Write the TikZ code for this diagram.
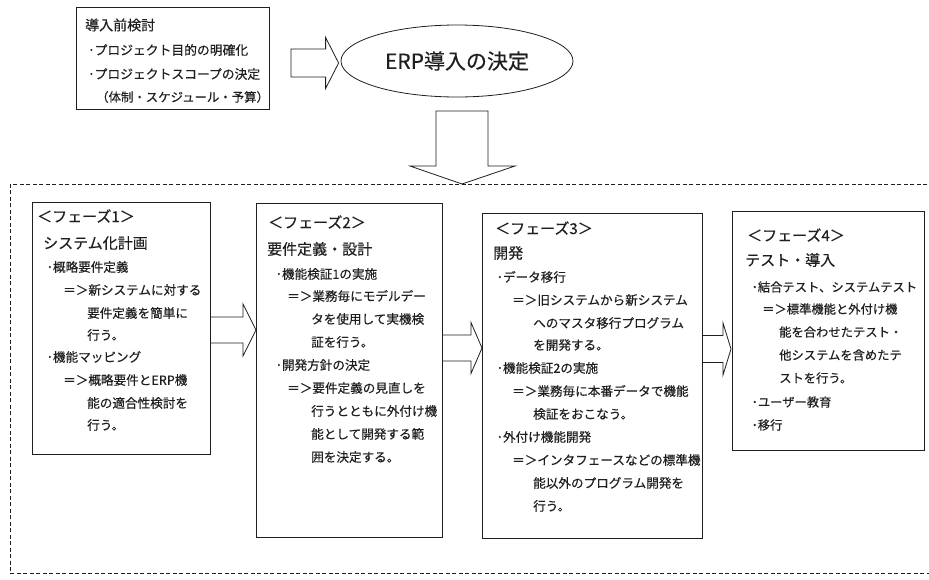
\documentclass[tikz,border=0pt]{standalone}
\usepackage{fontspec}
\setmainfont{Noto Sans CJK JP}[FakeBold=0.35]
\usetikzlibrary{calc,shapes.geometric}
\definecolor{ink}{gray}{0.12}
\tikzset{
  box/.style={draw=ink, line width=0.8pt, inner sep=0pt, anchor=north west},
  ln/.style={anchor=west, inner sep=0pt, text=ink, font=\fontsize{#1}{#1}\selectfont},
  blk/.style={draw=ink, line width=0.8pt, line join=miter},
  frm/.style={draw=ink, line width=0.7pt, dash pattern=on 4pt off 2.5pt, inner sep=0pt, anchor=north west},
}
\begin{document}
\begin{tikzpicture}[x=1pt,y=-1pt]
\useasboundingbox[fill=white] (0,0) rectangle (929,579);

% dashed frame
\node[frm, minimum width=940pt, minimum height=389pt] (frame) at (10,184) {};

% top box
\node[box, minimum width=193pt, minimum height=102pt] (top) at (76,7) {};
\foreach \x/\y/\s/\t [count=\i] in {
  85/25/14/{導入前検討},
  88/50/12.8/{･プロジェクト目的の明確化},
  88/74/12.8/{･プロジェクトスコープの決定},
  96/97/12.4/{（体制・スケジュール・予算）}}
  \node[ln=\s] (t\i) at (\x,\y) {\t};

% ERP ellipse
\node[ellipse, draw=ink, line width=0.8pt, minimum width=232pt, minimum height=72pt,
      inner sep=0pt, text=ink, font=\fontsize{21}{24}\selectfont] (erp) at (457,61) {ERP導入の決定};

% phase boxes
\node[box, minimum width=178pt, minimum height=252pt] (p1) at (32,202) {};
\node[box, minimum width=186pt, minimum height=334pt] (p2) at (256,203) {};
\node[box, minimum width=220pt, minimum height=325pt] (p3) at (482,213) {};
\node[box, minimum width=192pt, minimum height=239pt] (p4) at (732,211) {};

\foreach \x/\y/\s/\t [count=\i] in {
  37/216/15/{＜フェーズ1＞},
  43/243/15/{システム化計画},
  46.5/267/12.6/{･概略要件定義},
  63/290/12.6/{＝＞新システムに対する},
  87/313/12.6/{要件定義を簡単に},
  87/335/12.6/{行う。},
  46.5/357/12.6/{･機能マッピング},
  63/380/12.6/{＝＞概略要件とERP機},
  87/403/12.6/{能の適合性検討を},
  87/425/12.6/{行う。}}
  \node[ln=\s] (a\i) at (\x,\y) {\t};

\foreach \x/\y/\s/\t [count=\i] in {
  268/222/15/{＜フェーズ2＞},
  267/249/15/{要件定義・設計},
  275.5/274/12.6/{･機能検証1の実施},
  287/296/12.6/{＝＞業務毎にモデルデー},
  311/319/12.6/{タを使用して実機検},
  311/342/12.6/{証を行う。},
  275.5/365/12.6/{･開発方針の決定},
  287/388/12.6/{＝＞要件定義の見直しを},
  311/411/12.6/{行うとともに外付け機},
  311/434/12.6/{能として開発する範},
  311/457/12.6/{囲を決定する。}}
  \node[ln=\s] (b\i) at (\x,\y) {\t};

\foreach \x/\y/\s/\t [count=\i] in {
  495/228/15/{＜フェーズ3＞},
  493/253/15/{開発},
  496.5/277/12.6/{･データ移行},
  512/300/12.6/{＝＞旧システムから新システム},
  533/323/12.6/{へのマスタ移行プログラム},
  533/345/12.6/{を開発する。},
  496.5/368/12.6/{･機能検証2の実施},
  512/391/12.6/{＝＞業務毎に本番データで機能},
  533/414/12.6/{検証をおこなう。},
  496.5/437/12.6/{･外付け機能開発},
  512/460/12.6/{＝＞インタフェースなどの標準機},
  533/483/12.6/{能以外のプログラム開発を},
  533/506/12.6/{行う。}}
  \node[ln=\s] (c\i) at (\x,\y) {\t};

\foreach \x/\y/\s/\t [count=\i] in {
  747/235/15/{＜フェーズ4＞},
  745/260/15/{テスト・導入},
  751.5/287/12.3/{･結合テスト、システムテスト},
  762/309/12.3/{＝＞標準機能と外付け機},
  779/332/12.3/{能を合わせたテスト・},
  779/355/12.3/{他システムを含めたテ},
  779/378/12.3/{ストを行う。},
  751.5/402/12.3/{･ユーザー教育},
  751.5/425/12.3/{･移行}}
  \node[ln=\s] (d\i) at (\x,\y) {\t};

% block arrows
\coordinate (a1s) at (291,63);
\draw[blk] let \p1=(a1s), \p2=(erp.west) in
  (\x1,\y1+14pt) -- (\x2-15pt,\y1+14pt) -- (\x2-15pt,\y1+25.5pt) -- (\x2-2pt,\y1)
  -- (\x2-15pt,\y1-25.5pt) -- (\x2-15pt,\y1-14pt) -- (\x1,\y1-14pt) -- cycle;

\coordinate (a2s) at (462,111);
\draw[blk] let \p1=(a2s), \p2=(frame.north west) in
  (\x1-26pt,\y1) -- (\x1-26pt,\y2+18pt) -- (\x1-52pt,\y2+18pt) -- (\x1,\y2)
  -- (\x1+53pt,\y2+18pt) -- (\x1+26pt,\y2+18pt) -- (\x1+26pt,\y1) -- cycle;

\coordinate (a3) at (0,330);
\draw[blk] let \p1=(p1.east), \p2=(p2.west), \p3=(a3) in
  (\x1,\y3+13pt) -- (\x2-13pt,\y3+13pt) -- (\x2-13pt,\y3+26pt) -- (\x2,\y3)
  -- (\x2-13pt,\y3-26pt) -- (\x2-13pt,\y3-13pt) -- (\x1,\y3-13pt);

\coordinate (a4) at (0,348);
\draw[blk] let \p1=(p2.east), \p2=(p3.west), \p3=(a4) in
  (\x1,\y3+13pt) -- (\x2-11pt,\y3+13pt) -- (\x2-11pt,\y3+25.5pt) -- (\x2,\y3)
  -- (\x2-11pt,\y3-25.5pt) -- (\x2-11pt,\y3-13pt) -- (\x1,\y3-13pt);

\coordinate (a5) at (0,349);
\draw[blk] let \p1=(p3.east), \p2=(p4.west), \p3=(a5) in
  (\x1,\y3+13.5pt) -- (\x2-9pt,\y3+13.5pt) -- (\x2-9pt,\y3+26pt) -- (\x2-1pt,\y3)
  -- (\x2-9pt,\y3-26pt) -- (\x2-9pt,\y3-13.5pt) -- (\x1,\y3-13.5pt);
\end{tikzpicture}
\end{document}
